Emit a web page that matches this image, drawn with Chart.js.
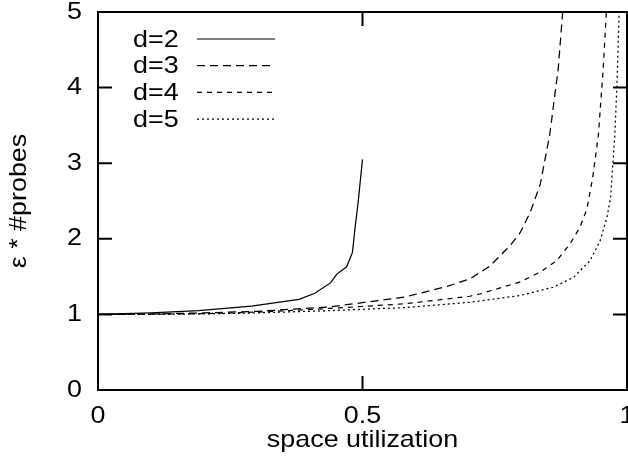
<!DOCTYPE html>
<html>
<head>
<meta charset="utf-8">
<script src="https://cdn.jsdelivr.net/npm/chart.js@4.4.1/dist/chart.umd.min.js"></script>
<style>
  body { margin: 0; background: #fff; }
  .wrap { width: 628px; height: 459px; position: relative; }
</style>
</head>
<body>
<div class="wrap"><canvas id="probeChart"></canvas></div>
<script>
// setup
const xTicks = [0, 0.5, 1];
const yTicks = [0, 1, 2, 3, 4, 5];

const d2x = [0, 0.1, 0.19, 0.29, 0.38, 0.41, 0.44, 0.451, 0.47, 0.481, 0.486, 0.492, 0.5];
const d2y = [1, 1.02, 1.05, 1.11, 1.2, 1.28, 1.42, 1.53, 1.63, 1.82, 2.15, 2.5, 3.05];

const d3x = [0, 0.1, 0.2, 0.3, 0.44, 0.58, 0.66, 0.703, 0.741, 0.779, 0.798, 0.817, 0.836, 0.854, 0.87, 0.878, 0.882];
const d3y = [1, 1.005, 1.02, 1.04, 1.1, 1.23, 1.37, 1.47, 1.64, 1.91, 2.08, 2.35, 2.72, 3.38, 4.25, 4.96, 5.4];

const d4x = [0, 0.1, 0.2, 0.3, 0.44, 0.58, 0.703, 0.722, 0.798, 0.836, 0.867, 0.892, 0.911, 0.924, 0.935, 0.946, 0.955, 0.96, 0.963];
const d4y = [1, 1.003, 1.01, 1.03, 1.08, 1.14, 1.24, 1.27, 1.43, 1.56, 1.71, 1.93, 2.15, 2.39, 2.8, 3.38, 4.25, 4.87, 5.3];

const d5x = [0, 0.1, 0.2, 0.3, 0.44, 0.58, 0.703, 0.798, 0.861, 0.899, 0.93, 0.949, 0.962, 0.969, 0.977, 0.981, 0.985, 0.987];
const d5y = [1, 1.002, 1.007, 1.02, 1.05, 1.09, 1.16, 1.25, 1.36, 1.49, 1.71, 1.97, 2.28, 2.55, 3.38, 4.03, 4.96, 5.4];

const labels = ['d=2', 'd=3', 'd=4', 'd=5'];
const dashes = [[], [8, 5], [5, 5], [2, 3]];

function pts(xs, ys) {
    return xs.map((v, i) => ({x: v, y: ys[i]}));
}

const series = [pts(d2x, d2y), pts(d3x, d3y), pts(d4x, d4y), pts(d5x, d5y)];

const FONT = '"Liberation Sans", Arial, sans-serif';
Chart.defaults.color = '#000';
Chart.defaults.font.family = FONT;
Chart.defaults.font.size = 24;

// the original's type is a bit wider than Liberation Sans at the same height
const canvas = document.getElementById('probeChart');
const c2d = canvas.getContext('2d');
const plainFill = c2d.fillText.bind(c2d);
c2d.fillText = function(text, x, y) {
    this.save();
    this.translate(x, y);
    this.scale(1.12, 1);
    plainFill(text, 0, 0);
    this.restore();
};

// frame with inward ticks + gnuplot style key
const frameAndKey = {
    id: 'frameAndKey',
    afterDatasetsDraw(chart) {
        const {ctx, chartArea: a, scales} = chart;
        ctx.save();
        ctx.strokeStyle = '#000';
        ctx.lineWidth = 2;
        ctx.strokeRect(a.left, a.top, a.right - a.left, a.bottom - a.top);
        ctx.beginPath();
        scales.x.ticks.forEach(t => {
            const px = scales.x.getPixelForValue(t.value);
            ctx.moveTo(px, a.bottom); ctx.lineTo(px, a.bottom - 14);
            ctx.moveTo(px, a.top); ctx.lineTo(px, a.top + 14);
        });
        scales.y.ticks.forEach(t => {
            const py = scales.y.getPixelForValue(t.value);
            ctx.moveTo(a.left, py); ctx.lineTo(a.left + 14, py);
            ctx.moveTo(a.right, py); ctx.lineTo(a.right - 14, py);
        });
        ctx.stroke();

        ctx.font = '24px ' + FONT;
        ctx.fillStyle = '#000';
        ctx.textBaseline = 'middle';
        ctx.textAlign = 'left';
        ctx.lineWidth = 1.2;
        chart.data.datasets.forEach((ds, i) => {
            const ly = a.top + 27 + i * 26.7;
            ctx.setLineDash([]);
            ctx.fillText(ds.label, a.left + 35, ly + 1);
            ctx.setLineDash(ds.borderDash);
            ctx.beginPath();
            ctx.moveTo(a.left + 99, ly);
            ctx.lineTo(a.left + 177, ly);
            ctx.stroke();
        });
        ctx.restore();
    }
};

// config
const config = {
    type: 'scatter',
    data: {
        datasets: series.map((s, i) => ({
            label: labels[i],
            data: s,
            showLine: true,
            borderColor: '#000',
            backgroundColor: '#000',
            borderWidth: 1.25,
            borderDash: dashes[i],
            pointRadius: 0,
            tension: 0
        }))
    },
    options: {
        responsive: true,
        maintainAspectRatio: false,
        animation: false,
        devicePixelRatio: 1,
        layout: { padding: 0 },
        plugins: {
            legend: { display: false },
            tooltip: { enabled: false }
        },
        scales: {
            x: {
                type: 'linear',
                min: 0,
                max: 1,
                afterBuildTicks: (scale) => { scale.ticks = xTicks.map(v => ({value: v})); },
                ticks: { padding: 12, maxRotation: 0, callback: (v) => String(v) },
                grid: { display: false, drawTicks: false },
                border: { display: false },
                title: { display: true, text: 'space utilization', padding: { top: 0, bottom: 4 } },
                afterFit: (scale) => {
                    scale.height = 69;
                    scale.paddingLeft = 0;
                    scale.paddingRight = 1;
                }
            },
            y: {
                type: 'linear',
                min: 0,
                max: 5,
                afterBuildTicks: (scale) => { scale.ticks = yTicks.map(v => ({value: v})); },
                ticks: { padding: 16, callback: (v) => String(v) },
                grid: { display: false, drawTicks: false },
                border: { display: false },
                title: { display: true, text: 'ε * #probes', padding: { top: 5, bottom: 0 } },
                afterFit: (scale) => {
                    scale.width = 98;
                    scale.paddingTop = 12;
                    scale.paddingBottom = 0;
                }
            }
        }
    },
    plugins: [frameAndKey]
};

// render init block
const probeChart = new Chart(canvas, config);
</script>
</body>
</html>
